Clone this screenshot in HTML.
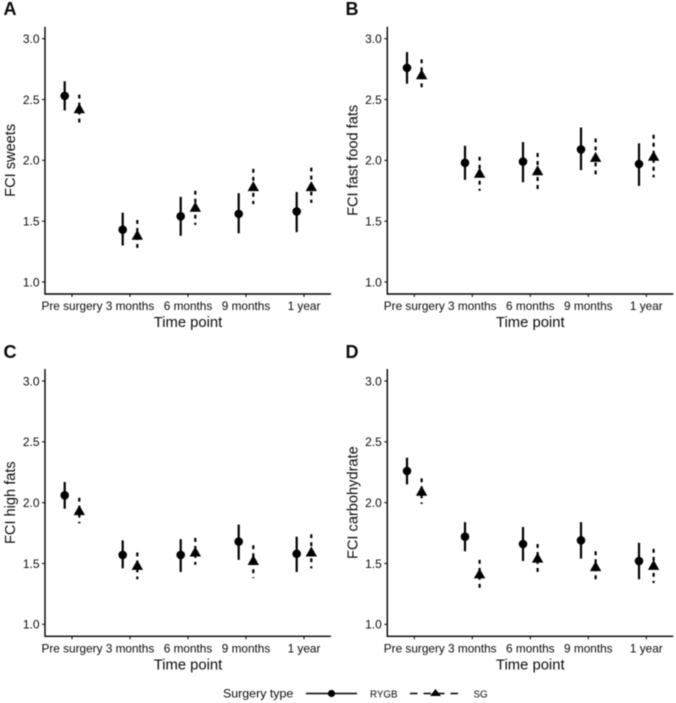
<!DOCTYPE html>
<html lang="en">
<head>
<meta charset="utf-8">
<title>FCI by surgery type and time point</title>
<style>
html,body{margin:0;padding:0;background:#fff;}
body{width:676px;height:703px;overflow:hidden;}
svg{display:block;}
text{font-family:"Liberation Sans",sans-serif;fill:#0a0a0a;}
#chart{filter:blur(0.45px);}
</style>
</head>
<body>
<svg id="chart" width="676" height="703" viewBox="0 0 676 703" xmlns="http://www.w3.org/2000/svg"></svg>
<script>
const categories = ["Pre surgery", "3 months", "6 months", "9 months", "1 year"];
const yTicks = [1.0, 1.5, 2.0, 2.5, 3.0];
const panelTags = ["A", "B", "C", "D"];
const panelTitles = ["FCI sweets", "FCI fast food fats", "FCI high fats", "FCI carbohydrate"];

const sweetsRygbMean = [2.53, 1.43, 1.54, 1.56, 1.58];
const sweetsRygbLow = [2.41, 1.30, 1.38, 1.40, 1.41];
const sweetsRygbHigh = [2.65, 1.57, 1.70, 1.73, 1.74];
const sweetsSgMean = [2.42, 1.38, 1.61, 1.78, 1.78];
const sweetsSgLow = [2.31, 1.25, 1.47, 1.64, 1.65];
const sweetsSgHigh = [2.54, 1.51, 1.75, 1.93, 1.94];

const fastFoodRygbMean = [2.76, 1.98, 1.99, 2.09, 1.97];
const fastFoodRygbLow = [2.63, 1.84, 1.82, 1.92, 1.79];
const fastFoodRygbHigh = [2.89, 2.12, 2.15, 2.27, 2.14];
const fastFoodSgMean = [2.70, 1.89, 1.91, 2.02, 2.03];
const fastFoodSgLow = [2.60, 1.75, 1.76, 1.88, 1.86];
const fastFoodSgHigh = [2.83, 2.03, 2.06, 2.18, 2.21];

const highFatsRygbMean = [2.06, 1.57, 1.57, 1.68, 1.58];
const highFatsRygbLow = [1.95, 1.46, 1.43, 1.53, 1.43];
const highFatsRygbHigh = [2.17, 1.69, 1.70, 1.82, 1.72];
const highFatsSgMean = [1.93, 1.48, 1.59, 1.52, 1.59];
const highFatsSgLow = [1.83, 1.37, 1.49, 1.38, 1.46];
const highFatsSgHigh = [2.04, 1.59, 1.71, 1.65, 1.74];

const carbsRygbMean = [2.26, 1.72, 1.66, 1.69, 1.52];
const carbsRygbLow = [2.15, 1.60, 1.52, 1.54, 1.37];
const carbsRygbHigh = [2.37, 1.84, 1.80, 1.84, 1.67];
const carbsSgMean = [2.09, 1.41, 1.54, 1.47, 1.48];
const carbsSgLow = [1.99, 1.30, 1.43, 1.34, 1.34];
const carbsSgHigh = [2.20, 1.53, 1.66, 1.60, 1.62];

const rygbMeans = [sweetsRygbMean, fastFoodRygbMean, highFatsRygbMean, carbsRygbMean];
const rygbLows = [sweetsRygbLow, fastFoodRygbLow, highFatsRygbLow, carbsRygbLow];
const rygbHighs = [sweetsRygbHigh, fastFoodRygbHigh, highFatsRygbHigh, carbsRygbHigh];
const sgMeans = [sweetsSgMean, fastFoodSgMean, highFatsSgMean, carbsSgMean];
const sgLows = [sweetsSgLow, fastFoodSgLow, highFatsSgLow, carbsSgLow];
const sgHighs = [sweetsSgHigh, fastFoodSgHigh, highFatsSgHigh, carbsSgHigh];

const NS = "http://www.w3.org/2000/svg";
const root = document.getElementById("chart");

function shape(parent, tag, attrs) {
  const el = document.createElementNS(NS, tag);
  for (const k in attrs) el.setAttribute(k, attrs[k]);
  parent.appendChild(el);
  return el;
}
function label(parent, str, attrs) {
  const el = shape(parent, "text", attrs);
  el.textContent = str;
  return el;
}

function drawPanel(p) {
  const col = p % 2, row = p < 2 ? 0 : 1;
  const axisX = col ? 387.3 : 45;
  const right = axisX + 286;
  const y3 = row ? 381 : 38.7;
  const y1 = y3 + 243.3;
  const bottom = y1 + 12;
  const top = y3 - 12;
  const scaleY = v => y1 - (v - 1) / 2 * (y1 - y3);
  const scaleX = i => axisX + 27 + i * 58;
  const dodge = 7.3;

  const g = shape(root, "g", {});
  
  

  const tag = label(g, panelTags[p], {x: col ? 345.5 : 3.5, y: row ? 358 : 15, "font-size": 18, "font-weight": "bold"});
  
  

  const yAxis = shape(g, "line", {x1: axisX, x2: axisX, y1: top, y2: bottom + 0.7, stroke: "#000", "stroke-width": 1.4});
  
  
  const xAxis = shape(g, "line", {x1: axisX, x2: right, y1: bottom, y2: bottom, stroke: "#000", "stroke-width": 1.4});
  
  

  yTicks.forEach(v => {
    const t = shape(g, "line", {x1: axisX - 3, x2: axisX, y1: scaleY(v), y2: scaleY(v), stroke: "#000", "stroke-width": 1});
    
    
    const l = label(g, v.toFixed(1), {x: axisX - 5.5, y: scaleY(v) + 4.3, "font-size": 12, "text-anchor": "end"});
    
    
  });

  categories.forEach((c, i) => {
    const t = shape(g, "line", {x1: scaleX(i), x2: scaleX(i), y1: bottom, y2: bottom + 3, stroke: "#000", "stroke-width": 1});
    
    
    const l = label(g, c, {x: scaleX(i), y: bottom + 16, "font-size": 11.8, "text-anchor": "middle"});
    
    

    const cx = scaleX(i) - dodge;
    const rygbBar = shape(g, "line", {x1: cx, x2: cx, y1: scaleY(rygbLows[p][i]), y2: scaleY(rygbHighs[p][i]), stroke: "#000", "stroke-width": 2.2});
    
    
    const dot = shape(g, "circle", {cx: cx, cy: scaleY(rygbMeans[p][i]), r: 4.3, fill: "#000"});
    
    

    const sx = scaleX(i) + dodge;
    const sgBar = shape(g, "line", {x1: sx, x2: sx, y1: scaleY(sgHighs[p][i]), y2: scaleY(sgLows[p][i]), stroke: "#000", "stroke-width": 2.2, "stroke-dasharray": "3.9 4.1"});
    
    
    const sy = scaleY(sgMeans[p][i]);
    const tri = shape(g, "polygon", {points: `${sx},${sy - 6} ${sx - 5.7},${sy + 4} ${sx + 5.7},${sy + 4}`, fill: "#000"});
    
    
  });

  const xTitle = label(g, "Time point", {x: axisX + 143, y: bottom + 33, "font-size": 14.8, "text-anchor": "middle"});
  
  

  const titleX = axisX - 30;
  const titleY = (y1 + y3) / 2;
  const yTitle = label(g, panelTitles[p], {x: titleX, y: titleY, "font-size": 14.6, "text-anchor": "middle", transform: `rotate(-90 ${titleX} ${titleY})`});
  
  
}

panelTags.forEach((_, p) => drawPanel(p));

const legend = shape(root, "g", {});



const legendTitle = label(legend, "Surgery type", {x: 223, y: 697.5, "font-size": 12.4});



const legendRygbLine = shape(legend, "line", {x1: 306, x2: 357, y1: 693.5, y2: 693.5, stroke: "#000", "stroke-width": 1.5});


const legendRygbDot = shape(legend, "circle", {cx: 331.5, cy: 693.5, r: 3.6, fill: "#000"});


const legendRygbLabel = label(legend, "RYGB", {x: 370, y: 697.5, "font-size": 9.8});



const legendSgLine = shape(legend, "line", {x1: 410, x2: 459, y1: 693.5, y2: 693.5, stroke: "#000", "stroke-width": 1.5, "stroke-dasharray": "7.5 6"});


const legendSgTri = shape(legend, "polygon", {points: "435.5,689 430,696 441,696", fill: "#000"});


const legendSgLabel = label(legend, "SG", {x: 473.5, y: 697.5, "font-size": 9.8});


</script>
</body>
</html>
